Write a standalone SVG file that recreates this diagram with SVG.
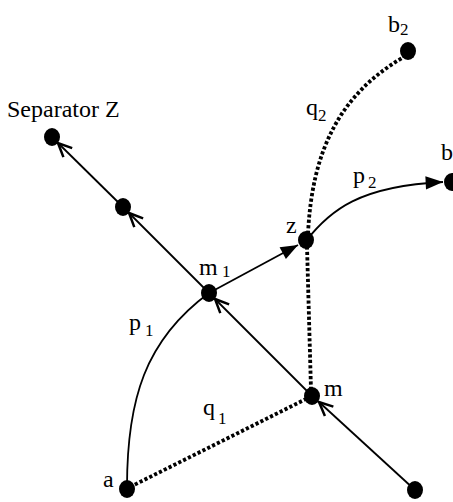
<svg xmlns="http://www.w3.org/2000/svg" width="453" height="502" viewBox="0 0 453 502">
<style>
.n{fill:#000}
.e{fill:none;stroke:#000;stroke-width:1.8}
.d{fill:none;stroke:#000;stroke-width:3.8;stroke-dasharray:3.2 2.2}
.t{font-size:24px;fill:#000}
.s{font-size:17px}
</style>
<defs>
<marker id="open" markerUnits="userSpaceOnUse" markerWidth="20" markerHeight="20" refX="0" refY="0" viewBox="-12 -8 14 16" orient="auto">
<path d="M-11,-5 L0,0 L-11,5" fill="none" stroke="#000" stroke-width="2"/>
</marker>
<marker id="fill" markerUnits="userSpaceOnUse" markerWidth="20" markerHeight="20" refX="0" refY="0" viewBox="-14 -7 15 14" orient="auto">
<path d="M-13,-5 L0,0 L-13,5 Z" fill="#000"/>
</marker>
</defs>
<rect width="453" height="502" fill="#fff"/>
<g id="connectors">
<line class="e" x1="415" y1="490" x2="319" y2="402" marker-end="url(#open)"/>
<line class="e" x1="312" y1="396" x2="215" y2="299" marker-end="url(#open)"/>
<line class="e" x1="209" y1="293" x2="129" y2="213" marker-end="url(#open)"/>
<line class="e" x1="123" y1="207" x2="58" y2="143" marker-end="url(#open)"/>
<line class="e" x1="209" y1="293" x2="298" y2="245" marker-end="url(#fill)"/>
<path class="e" d="M306,241 C330,210 360,186 443,182" marker-end="url(#fill)"/>
<path class="e" d="M127,487 C127,400 145,340 209,293"/>
<line class="d" x1="130" y1="487" x2="308" y2="398"/>
<line class="d" x1="311" y1="390" x2="307" y2="246"/>
<path class="d" d="M308,234 C312,150 340,95 402,58"/>
</g>
<g class="t" font-family="Liberation Serif, DejaVu Serif, serif">
<g id="sepZ"><ellipse class="n" cx="52" cy="137" rx="8" ry="9"/><text x="7" y="117">Separator Z</text></g>
<g id="n2"><ellipse class="n" cx="123" cy="207" rx="8" ry="9"/></g>
<g id="m1"><ellipse class="n" cx="209" cy="293" rx="8" ry="9"/><text x="199" y="275">m</text><text class="s" x="222" y="277">1</text></g>
<g id="z"><ellipse class="n" cx="306" cy="240" rx="8" ry="9"/><text x="286" y="233">z</text></g>
<g id="b2"><ellipse class="n" cx="408" cy="51" rx="8" ry="9"/><text x="388" y="32">b</text><text class="s" x="400" y="35">2</text></g>
<g id="b"><ellipse class="n" cx="452" cy="182" rx="8" ry="9"/><text x="441" y="160">b</text></g>
<g id="m"><ellipse class="n" cx="312" cy="396" rx="8" ry="9"/><text x="324" y="396">m</text></g>
<g id="a"><ellipse class="n" cx="127" cy="489" rx="8" ry="9"/><text x="103" y="487">a</text></g>
<g id="br"><ellipse class="n" cx="415" cy="490" rx="8" ry="9"/></g>
<g id="labels">
<text x="129" y="330">p</text><text class="s" x="145" y="336">1</text>
<text x="203" y="415">q</text><text class="s" x="218" y="424">1</text>
<text x="306" y="115">q</text><text class="s" x="318" y="121">2</text>
<text x="353" y="183">p</text><text class="s" x="368" y="188">2</text>
</g>
</g>
</svg>
